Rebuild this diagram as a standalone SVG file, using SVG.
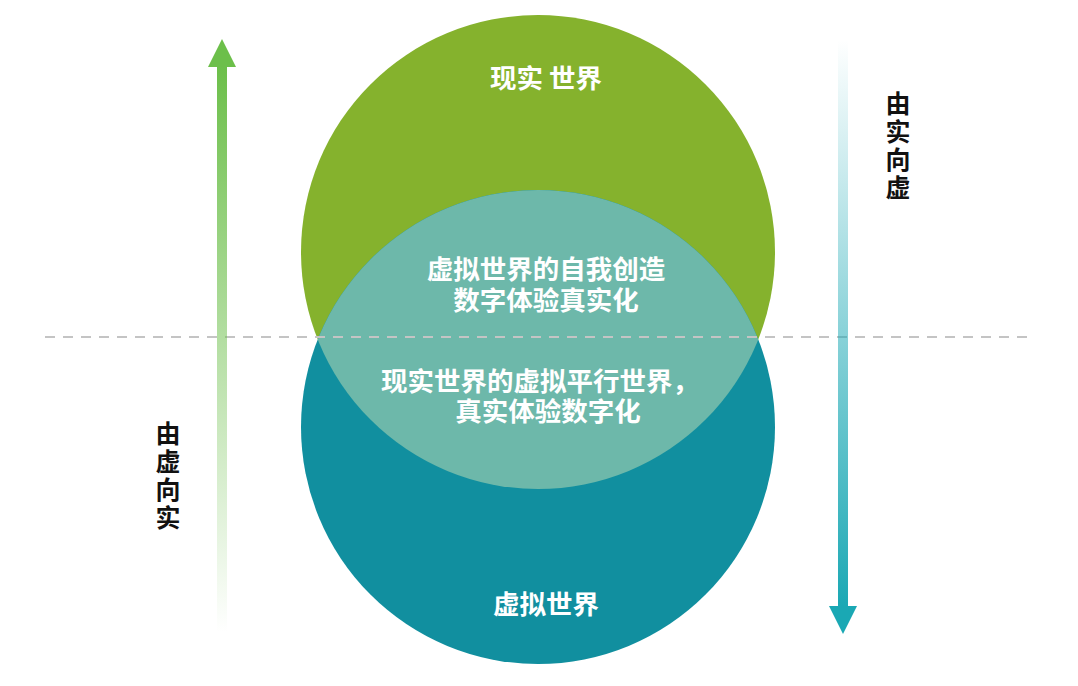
<svg xmlns="http://www.w3.org/2000/svg" width="1078" height="686" viewBox="0 0 1078 686">
<style>
.t{font-family:"Noto Sans CJK SC","Noto Sans",sans-serif;font-weight:bold;font-size:26.5px;fill:#ffffff;text-anchor:middle}
.v{font-family:"Noto Sans CJK SC","Noto Sans",sans-serif;font-weight:bold;font-size:25px;fill:#111111;text-anchor:middle}
</style>
<defs>
<linearGradient id="gUp" x1="0" y1="1" x2="0" y2="0">
<stop offset="0" stop-color="#6cbf4a" stop-opacity="0"/>
<stop offset="1" stop-color="#6cbf4a" stop-opacity="1"/>
</linearGradient>
<linearGradient id="gDown" x1="0" y1="0" x2="0" y2="1">
<stop offset="0" stop-color="#1aa8b4" stop-opacity="0"/>
<stop offset="1" stop-color="#1aa8b4" stop-opacity="1"/>
</linearGradient>
<clipPath id="clipTop"><circle cx="538" cy="252" r="237"/></clipPath>
</defs>
<rect width="1078" height="686" fill="#ffffff"/>
<g id="real-world">
<circle cx="538" cy="252" r="237" fill="#85b22d"/>
<text class="t" x="546" y="88">现实 世界</text>
</g>
<g id="virtual-world">
<circle cx="538" cy="427" r="237" fill="#118f9f"/>
<text class="t" x="546" y="614">虚拟世界</text>
</g>
<g id="intersection">
<circle cx="538" cy="427" r="237" fill="#6db8aa" clip-path="url(#clipTop)"/>
<text class="t" x="546" y="279">虚拟世界的自我创造</text>
<text class="t" x="546" y="310">数字体验真实化</text>
<text class="t" x="540" y="391">现实世界的虚拟平行世界，</text>
<text class="t" x="548" y="421">真实体验数字化</text>
</g>
<g id="connectors">
<line x1="45" y1="337" x2="1030" y2="337" stroke="#c4c4c4" stroke-width="2" stroke-dasharray="10,8"/>
<g id="arrow-up">
<rect x="217" y="66" width="10" height="566" fill="url(#gUp)"/>
<polygon points="222,39 236,67 208,67" fill="#6cbf4a"/>
</g>
<g id="arrow-down">
<rect x="838" y="40" width="10" height="568" fill="url(#gDown)"/>
<polygon points="843,634 857,606 829,606" fill="#1aa8b4"/>
</g>
</g>
<g id="label-right">
<text class="v" x="898" y="113">由</text>
<text class="v" x="898" y="141">实</text>
<text class="v" x="898" y="169">向</text>
<text class="v" x="898" y="197">虚</text>
</g>
<g id="label-left">
<text class="v" x="168" y="443">由</text>
<text class="v" x="168" y="471">虚</text>
<text class="v" x="168" y="499">向</text>
<text class="v" x="168" y="527">实</text>
</g>
</svg>
